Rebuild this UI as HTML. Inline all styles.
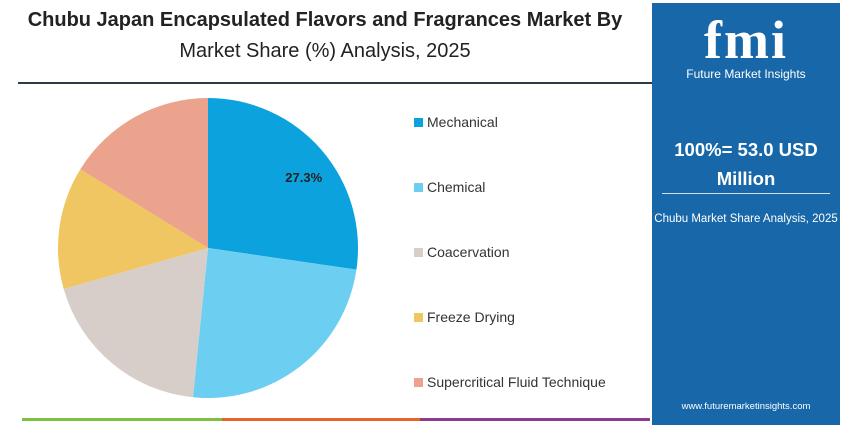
<!DOCTYPE html>
<html><head><meta charset="utf-8">
<style>
body{margin:0;width:850px;height:425px;background:#fff;position:relative;overflow:hidden;font-family:"Liberation Sans",Arial,sans-serif}
.t{position:absolute;left:0;width:650px;text-align:center;color:#222;font-size:20px}
.panel{position:absolute;left:652px;top:3px;width:188px;height:422px;background:#1767a9}
.leg{position:absolute;left:414px;font-size:14px;color:#333}
.leg i{display:inline-block;width:9px;height:9px;margin-right:4px}
</style></head><body>
<div class="t" style="top:9px;font-weight:bold">Chubu Japan Encapsulated Flavors and Fragrances Market By</div>
<div class="t" style="top:40px">Market Share (%) Analysis, 2025</div>
<div style="position:absolute;left:18px;top:82px;width:634px;height:2px;background:#2a3b4c"></div>
<svg id="pie" width="420" height="420" style="position:absolute;left:0;top:0"></svg>
<div id="legend"></div>
<div class="panel">
<div style="position:absolute;top:6px;width:188px;text-align:center;color:#fff;font-size:54px;font-weight:bold;font-family:'Liberation Serif',serif;letter-spacing:2px">fmi</div>
<div style="position:absolute;top:64px;width:188px;text-align:center;color:#fff;font-size:12px">Future Market Insights</div>
<div style="position:absolute;top:132px;width:188px;text-align:center;color:#fff;font-size:18.5px;font-weight:bold;line-height:29px">100%= 53.0 USD<br>Million</div>
<div style="position:absolute;left:10px;top:190px;width:168px;height:1px;background:#cfe0f0"></div>
<div style="position:absolute;top:210px;width:188px;text-align:center;color:#fff;font-size:11.5px">Chubu Market Share Analysis, 2025</div>
<div style="position:absolute;top:398px;width:188px;text-align:center;color:#fff;font-size:9.5px">www.futuremarketinsights.com</div>
</div>
<div style="position:absolute;left:22px;top:418px;width:200px;height:3px;background:#7cc142"></div>
<div style="position:absolute;left:222px;top:418px;width:198px;height:3px;background:#e8632b"></div>
<div style="position:absolute;left:420px;top:418px;width:230px;height:3px;background:#8e3b8f"></div>
<script>
const categories=["Mechanical","Chemical","Coacervation","Freeze Drying","Supercritical Fluid Technique"];
const shares=[27.3,24.3,19.0,13.2,16.2];
const colors=["#0ca2dd","#6ccff2","#d7cdc9","#efc661","#eba38d"];
const cx=208,cy=248,r=150;
const svg=document.getElementById('pie');
const total=shares.reduce((a,b)=>a+b,0);
let a0=0;
function pt(a,rr){return [cx+rr*Math.sin(a),cy-rr*Math.cos(a)];}
shares.forEach((v,i)=>{
  const a1=a0+v/total*2*Math.PI;
  const p0=pt(a0,r),p1=pt(a1,r);
  const p=document.createElementNS('http://www.w3.org/2000/svg','path');
  p.setAttribute('d',`M${cx},${cy}L${p0[0]},${p0[1]}A${r},${r} 0 ${a1-a0>Math.PI?1:0} 1 ${p1[0]},${p1[1]}Z`);
  p.setAttribute('fill',colors[i]);
  
  
  svg.appendChild(p);
  if(i===0){
    const m=pt((a0+a1)/2,r*0.65);
    const t=document.createElementNS('http://www.w3.org/2000/svg','text');
    t.setAttribute('x',m[0]+22);t.setAttribute('y',m[1]-2);
    t.setAttribute('text-anchor','middle');t.setAttribute('font-size','13');t.setAttribute('font-weight','bold');t.setAttribute('fill','#222');
    t.textContent=v.toFixed(1)+'%';
    
    
    svg.appendChild(t);
  }
  a0=a1;
});
const lg=document.getElementById('legend');
categories.forEach((c,i)=>{
  const d=document.createElement('div');
  d.className='leg';d.style.top=(114+i*65)+'px';
  d.innerHTML=`<i style="background:${colors[i]}"></i>${c}`;
  
  
  lg.appendChild(d);
});
</script>
</body></html>
